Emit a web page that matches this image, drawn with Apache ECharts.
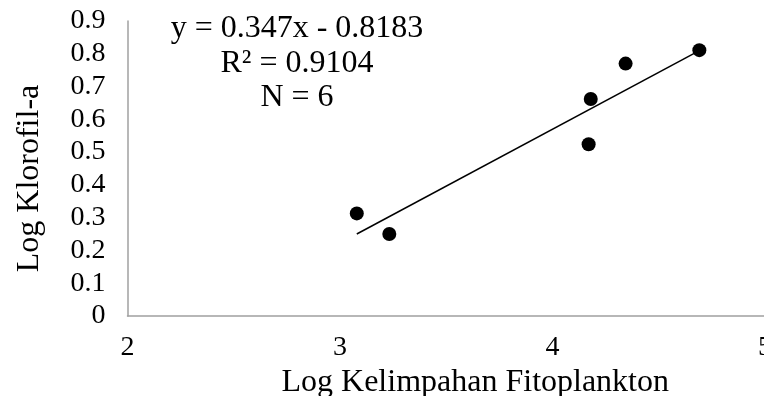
<!DOCTYPE html>
<html>
<head>
<meta charset="utf-8">
<script src="https://cdn.jsdelivr.net/npm/echarts@6/dist/echarts.min.js"></script>
<style>
  html, body { margin: 0; padding: 0; background: #fff; }
  #chart { width: 764px; height: 396px; }
</style>
</head>
<body>
<div id="chart"></div>
<script>
(function() {
  // data
  var xValues = [3.079, 3.232, 4.170, 4.180, 4.344, 4.691];
  var yValues = [0.313, 0.250, 0.524, 0.662, 0.770, 0.811];
  var slope = 0.347;
  var intercept = -0.8183;
  var equationLines = ['y = 0.347x - 0.8183', 'R² = 0.9104', 'N = 6'];
  var xTitle = 'Log Kelimpahan Fitoplankton';
  var yTitle = 'Log Klorofil-a';

  var font = '"Liberation Serif", "Times New Roman", serif';
  var axisGrey = '#a0a0a0';

  var points = xValues.map(function(x, i) { return [x, yValues[i]]; });
  var xMin = Math.min.apply(null, xValues);
  var xMax = Math.max.apply(null, xValues);
  var trend = [[xMin, slope * xMin + intercept], [xMax, slope * xMax + intercept]];

  var chart = echarts.init(document.getElementById('chart'), null, { renderer: 'canvas' });
  chart.setOption({
    animation: false,
    backgroundColor: '#fff',
    grid: { left: 127.5, top: 21, width: 637.5, height: 295, outerBoundsMode: 'none' },
    xAxis: {
      type: 'value', min: 2, max: 5, interval: 1,
      name: xTitle, nameLocation: 'middle', nameGap: 47,
      nameTextStyle: { fontFamily: font, fontSize: 32, color: '#000', padding: [0, 0, 0, 58] },
      axisLine: { show: true, onZero: false, lineStyle: { color: axisGrey, width: 1.5 } },
      axisTick: { show: false },
      splitLine: { show: false },
      axisLabel: { fontFamily: font, fontSize: 28, color: '#000', margin: 18, showMaxLabel: true }
    },
    yAxis: {
      type: 'value', min: 0, max: 0.9, interval: 0.1,
      name: yTitle, nameLocation: 'middle', nameGap: 82, nameRotate: 90,
      nameTextStyle: { fontFamily: font, fontSize: 32, color: '#000', padding: [0, 20, 0, 0] },
      axisLine: { show: true, lineStyle: { color: axisGrey, width: 1.5 } },
      axisTick: { show: false },
      splitLine: { show: false },
      axisLabel: {
        fontFamily: font, fontSize: 28, color: '#000', margin: 22,
        formatter: function(v) { return v === 0 ? '0' : v.toFixed(1); }
      }
    },
    graphic: equationLines.map(function(t, i) {
      return {
        type: 'text', x: 297, y: 29 + i * 34.5,
        style: { text: t, font: '32px ' + font, fill: '#000', textAlign: 'center', textVerticalAlign: 'middle' }
      };
    }),
    series: [
      {
        type: 'line', data: trend, showSymbol: false, symbol: 'none',
        lineStyle: { color: '#000', width: 1.5 }, z: 2
      },
      {
        type: 'scatter', data: points, symbol: 'circle', symbolSize: 14,
        itemStyle: { color: '#000', opacity: 1 }, z: 3
      }
    ]
  });
})();
</script>
</body>
</html>
